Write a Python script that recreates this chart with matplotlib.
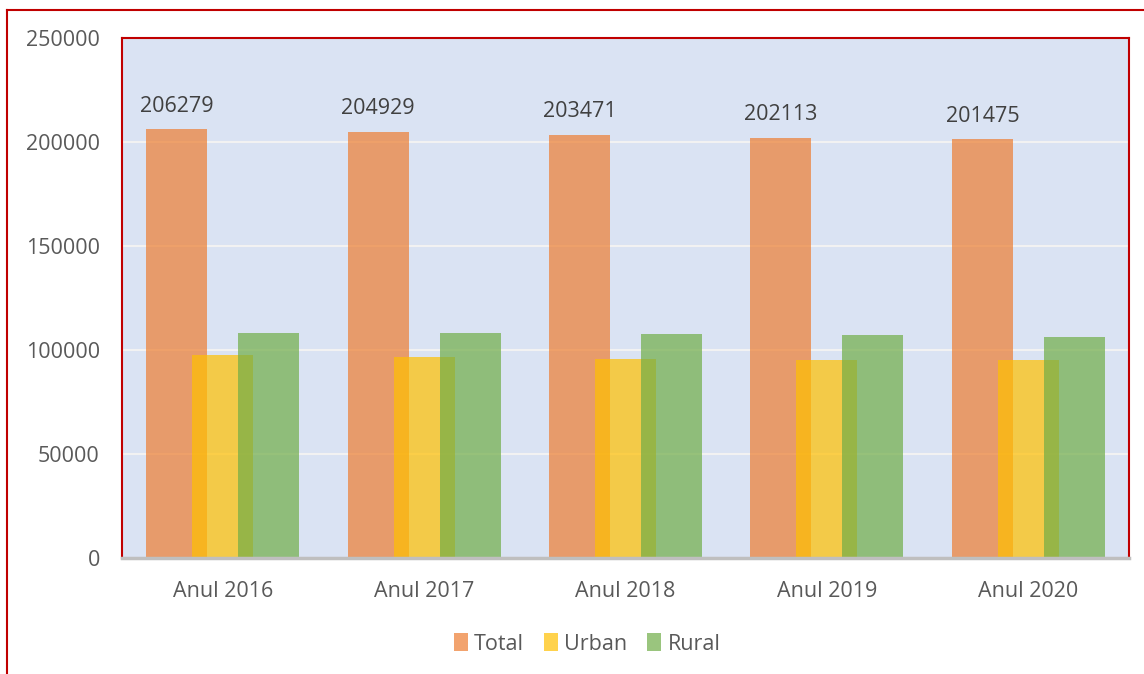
import numpy as np
import matplotlib.pyplot as plt
from matplotlib.lines import Line2D

# values
years = ['Anul 2016', 'Anul 2017', 'Anul 2018', 'Anul 2019', 'Anul 2020']
total = [206279, 204929, 203471, 202113, 201475]
urban = [97700, 96600, 95900, 95100, 95400]
rural = [108400, 108300, 107500, 107000, 106100]

plt.rcParams['font.family'] = ['Open Sans', 'DejaVu Sans']

W, H = 1144, 674
fig = plt.figure(figsize=(W / 100, H / 100), dpi=100)
ax = fig.add_axes([122 / W, (H - 558) / H, (1129 - 122) / W, (558 - 38) / H])
ax.set_facecolor('#DAE3F3')

x = np.arange(len(years))
bw = 0.303
off = 0.228
ax.bar(x - off, total, bw, color='#ED7D31', alpha=0.7, label='Total')
ax.bar(x, urban, bw, color='#FFC000', alpha=0.7, label='Urban')
ax.bar(x + off, rural, bw, color='#70AD47', alpha=0.7, label='Rural')

# data labels only on the totals
for xi, v in zip(x - off, total):
    ax.annotate(str(v), (xi, v), xytext=(0, 16.5), textcoords='offset points',
                ha='center', va='center', fontsize=15.5, color='#404040')

ax.set_xlim(-0.5, len(years) - 0.5)
ax.set_ylim(0, 250000)
ax.set_yticks(np.arange(0, 250001, 50000))
ax.set_xticks(x)
ax.set_xticklabels(years)
ax.yaxis.grid(True, color='#F2F2F2', linewidth=1.5)
ax.set_axisbelow(True)
ax.tick_params(axis='both', length=0, labelsize=15.5, labelcolor='#595959')
ax.tick_params(axis='y', pad=16)
ax.tick_params(axis='x', pad=16.5)

for side in ['left', 'top', 'right']:
    ax.spines[side].set_color('#C00000')
    ax.spines[side].set_linewidth(1.5)
ax.spines['bottom'].set_color('#BFBFBF')
ax.spines['bottom'].set_linewidth(2.5)

fig.legend(loc='center', bbox_to_anchor=(587 / W, 1 - 644 / H), ncol=3,
           frameon=False, fontsize=15.5, labelcolor='#595959',
           handlelength=0.66, handleheight=0.9, handletextpad=0.28,
           columnspacing=0.93)

# outer red frame (runs off the right and bottom edges)
fig.add_artist(Line2D([7 / W, 7 / W], [1 - 10 / H, 0], color='#C00000', linewidth=1.5))
fig.add_artist(Line2D([7 / W, 1], [1 - 10 / H, 1 - 10 / H], color='#C00000', linewidth=1.5))

fig.savefig('out.png', dpi=100)
